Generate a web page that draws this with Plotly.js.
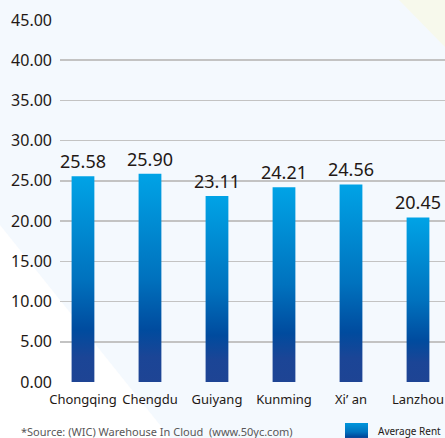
<!DOCTYPE html>
<html>
<head>
<meta charset="utf-8">
<script src="https://cdn.plot.ly/plotly-3.0.1.min.js"></script>
<style>
html,body{margin:0;padding:0;background:#F4F9FE;}
#chart{width:445px;height:438px;}
</style>
</head>
<body>
<div id="chart"></div>
<script>
var cities = ["Chongqing", "Chengdu", "Guiyang", "Kunming", "Xi\u2019 an", "Lanzhou"];
var averageRent = [25.58, 25.90, 23.11, 24.21, 24.56, 20.45];
var yTicks = [0, 5, 10, 15, 20, 25, 30, 35, 40, 45];
var seriesName = "Average Rent";
var sourceText = "*Source: (WIC) Warehouse In Cloud  (www.50yc.com)";

var L = 60, R = 445, T = 20, B = 382;
function px(x){ return (x - L) / (R - L); }
function py(y){ return (B - y) / (B - T); }

var FONT = "Noto Sans, Open Sans, DejaVu Sans, sans-serif";

var trace = {
  type: "bar",
  x: cities.map(function(c, i){ return i; }),
  y: averageRent,
  name: seriesName,
  width: 0.34,
  marker: {color: "#0077C4", line: {width: 0}},
  text: averageRent.map(function(v){ return v.toFixed(2); }),
  textposition: "outside",
  constraintext: "none",
  textfont: {size: 18, color: "#231815", family: FONT},
  cliponaxis: false,
  hoverinfo: "none",
  showlegend: false
};

var layout = {
  width: 445, height: 438,
  margin: {l: L, r: 445 - R, t: T, b: 438 - B, pad: 0},
  paper_bgcolor: "#F4F9FE",
  plot_bgcolor: "rgba(0,0,0,0)",
  font: {family: FONT, color: "#231815"},
  showlegend: false,
  xaxis: {
    range: [-0.343, 5.403],
    tickvals: cities.map(function(c, i){ return i; }),
    ticktext: cities,
    showgrid: false, zeroline: false, showline: false,
    ticks: "",
    tickfont: {size: 13, color: "#231815"},
    ticklabelstandoff: 8,
    fixedrange: true
  },
  yaxis: {
    range: [0, 45],
    tickvals: yTicks,
    ticktext: yTicks.map(function(v){ return v.toFixed(2); }),
    showgrid: true, gridcolor: "#C3C3C3", gridwidth: 1.5,
    zeroline: false, showline: false,
    ticks: "",
    tickfont: {size: 16, color: "#231815"},
    ticklabelstandoff: 7,
    fixedrange: true
  },
  shapes: [
    {type: "path", xref: "paper", yref: "paper", layer: "below",
     path: "M " + px(0) + "," + py(225) + " L " + px(172) + "," + py(440) + " L " + px(0) + "," + py(440) + " Z",
     fillcolor: "#FFFFFF", line: {width: 0}},
    {type: "path", xref: "paper", yref: "paper", layer: "below",
     path: "M " + px(397) + "," + py(-2) + " L " + px(446) + "," + py(-2) + " L " + px(446) + "," + py(48) + " Z",
     fillcolor: "#F7F9EC", line: {width: 0}},
    {type: "rect", xref: "paper", yref: "paper", layer: "above",
     x0: px(345), x1: px(368), y0: py(423), y1: py(441),
     fillcolor: "#0077C4", line: {width: 0}, name: "legendswatch"}
  ],
  annotations: [
    {xref: "paper", yref: "paper", x: px(19), y: py(431), xanchor: "left", yanchor: "middle",
     text: sourceText, showarrow: false, font: {size: 11, color: "#595757"}},
    {xref: "paper", yref: "paper", x: px(376), y: py(431), xanchor: "left", yanchor: "middle",
     text: seriesName, showarrow: false, font: {size: 10, color: "#231815"}}
  ]
};

Plotly.newPlot("chart", [trace], layout, {staticPlot: true, displayModeBar: false}).then(function(gd){
  var svg = gd.querySelector("svg.main-svg");
  var ns = "http://www.w3.org/2000/svg";
  var defs = svg.querySelector("defs") || svg.insertBefore(document.createElementNS(ns, "defs"), svg.firstChild);
  var g = document.createElementNS(ns, "linearGradient");
  g.setAttribute("id", "barGrad");
  g.setAttribute("x1", "0"); g.setAttribute("y1", "0");
  g.setAttribute("x2", "0"); g.setAttribute("y2", "1");
  [["0", "#00A3E6"], ["0.5", "#0072BE"], ["0.75", "#004B9E"], ["0.88", "#1B4596"], ["1", "#1E4494"]].forEach(function(s){
    var st = document.createElementNS(ns, "stop");
    st.setAttribute("offset", s[0]);
    st.setAttribute("stop-color", s[1]);
    g.appendChild(st);
  });
  defs.appendChild(g);
  var g2 = g.cloneNode(true);
  g2.setAttribute("id", "swGrad");
  g2.childNodes[0].setAttribute("stop-color", "#0096DC");
  defs.appendChild(g2);
  gd.querySelectorAll(".barlayer .point path").forEach(function(p){
    p.style.fill = "url(#barGrad)";
  });
  var shapePaths = gd.querySelectorAll(".shapelayer path");
  if (shapePaths.length) {
    shapePaths[shapePaths.length - 1].style.fill = "url(#swGrad)";
  }
});
</script>
</body>
</html>
